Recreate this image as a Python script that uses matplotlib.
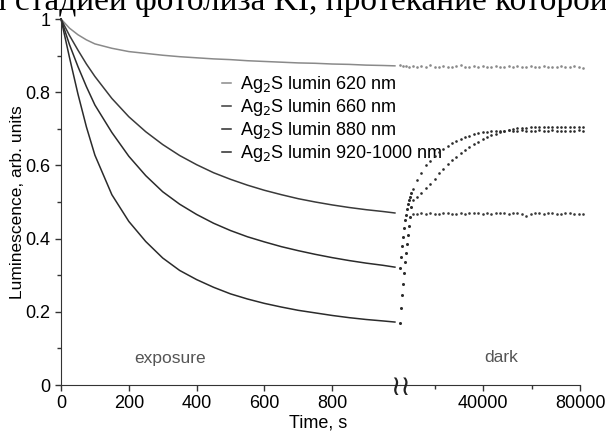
import numpy as np
import matplotlib.pyplot as plt
from matplotlib.ticker import FixedLocator

plt.rcParams['font.family'] = ['Liberation Sans', 'DejaVu Sans']

# exposure part (time in s)
t_exp = [0, 25, 50, 75, 100, 150, 200, 250, 300, 350, 400, 450, 500, 550, 600,
         650, 700, 750, 800, 850, 900, 950, 985]
lum_620 = [1.0, 0.975, 0.957, 0.943, 0.932, 0.92, 0.911, 0.906, 0.901, 0.897, 0.894, 0.891,
           0.889, 0.886, 0.884, 0.882, 0.88, 0.879, 0.877, 0.876, 0.874, 0.873, 0.872]
lum_660 = [1.0, 0.955, 0.915, 0.877, 0.843, 0.783, 0.733, 0.692, 0.657, 0.627, 0.602, 0.58,
           0.562, 0.546, 0.532, 0.52, 0.509, 0.5, 0.492, 0.485, 0.479, 0.474, 0.47]
lum_880 = [1.0, 0.93, 0.87, 0.815, 0.765, 0.69, 0.625, 0.572, 0.528, 0.494, 0.466, 0.442,
           0.422, 0.405, 0.391, 0.378, 0.367, 0.357, 0.348, 0.34, 0.333, 0.327, 0.322]
lum_920 = [1.0, 0.895, 0.795, 0.705, 0.628, 0.52, 0.447, 0.392, 0.347, 0.313, 0.288, 0.267,
           0.249, 0.235, 0.223, 0.213, 0.204, 0.197, 0.19, 0.184, 0.179, 0.175, 0.172]

# dark part (time in s)
t_dark = np.arange(11000, 82000, 1800)
dark_620 = [0.872, 0.868, 0.871, 0.869, 0.873, 0.870, 0.868, 0.872, 0.870, 0.869,
            0.871, 0.873, 0.870, 0.868, 0.871, 0.870, 0.872, 0.869, 0.870, 0.871,
            0.868, 0.870, 0.872, 0.869, 0.871, 0.870, 0.868, 0.871, 0.870, 0.869,
            0.872, 0.870, 0.868, 0.870, 0.871, 0.869, 0.870, 0.872, 0.869, 0.867]
dark_660 = [0.468, 0.466, 0.469, 0.467, 0.470, 0.468, 0.466, 0.469, 0.471, 0.468,
            0.467, 0.470, 0.468, 0.469, 0.471, 0.469, 0.467, 0.470, 0.468, 0.470,
            0.471, 0.469, 0.468, 0.470, 0.469, 0.467, 0.462, 0.468, 0.470, 0.469,
            0.468, 0.470, 0.469, 0.467, 0.468, 0.470, 0.469, 0.468, 0.467, 0.466]
dark_880 = [0.535, 0.56, 0.58, 0.60, 0.613, 0.625, 0.636, 0.645, 0.653, 0.66,
            0.666, 0.672, 0.677, 0.681, 0.685, 0.688, 0.69, 0.692, 0.693, 0.694,
            0.695, 0.694, 0.696, 0.695, 0.694, 0.696, 0.695, 0.693, 0.695, 0.696,
            0.694, 0.695, 0.696, 0.694, 0.695, 0.693, 0.695, 0.694, 0.696, 0.695]
dark_920 = [0.505, 0.515, 0.525, 0.537, 0.55, 0.562, 0.578, 0.59, 0.603, 0.614,
            0.624, 0.633, 0.642, 0.65, 0.658, 0.665, 0.671, 0.677, 0.682, 0.686,
            0.69, 0.694, 0.697, 0.699, 0.701, 0.702, 0.703, 0.704, 0.705, 0.704,
            0.706, 0.705, 0.704, 0.706, 0.705, 0.704, 0.706, 0.705, 0.704, 0.705]

# first dark points, right after the light is switched off
t_rise = [5800, 6200, 6600, 7000, 7400, 7800, 8200, 8600, 9000, 9500, 10000, 10500]
rise_620 = [0.873, 0.871, 0.870, 0.872, 0.870, 0.869, 0.871, 0.870, 0.872, 0.869, 0.870, 0.871]
rise_880 = [0.32, 0.35, 0.38, 0.405, 0.43, 0.45, 0.465, 0.48, 0.495, 0.505, 0.515, 0.525]
rise_920 = [0.17, 0.21, 0.245, 0.275, 0.305, 0.335, 0.36, 0.385, 0.41, 0.435, 0.46, 0.485]

labels = ['Ag$_2$S lumin 620 nm', 'Ag$_2$S lumin 660 nm',
          'Ag$_2$S lumin 880 nm', 'Ag$_2$S lumin 920-1000 nm']

W, H = 606, 436
fig = plt.figure(figsize=(W / 100, H / 100), dpi=100)
x0, xb, x1, y0, y1 = 61, 400, 580, 385, 19
ax1 = fig.add_axes([x0 / W, 1 - y0 / H, (xb - x0) / W, (y0 - y1) / H])
ax2 = fig.add_axes([xb / W, 1 - y0 / H, (x1 - xb) / W, (y0 - y1) / H])

grey = '#8a8a8a'
dark = '#2b2b2b'
cols = [grey, '#3a3a3a', dark, dark]

handles = []
for y, c, lab in zip([lum_620, lum_660, lum_880, lum_920], cols, labels):
    h, = ax1.plot(t_exp, y, color=c, lw=1.1, label=lab, clip_on=False)
    handles.append(h)

for y, c in zip([dark_620, dark_660, dark_880, dark_920], cols):
    ax2.plot(t_dark, y, ls='none', marker='o', ms=1.9, color=c, mew=0, clip_on=False)
ax2.plot(t_rise[::3], rise_620[::3], ls='none', marker='o', ms=1.9, color=grey, mew=0, clip_on=False)
ax2.plot(t_rise, rise_880, ls='none', marker='o', ms=2.2, color=dark, mew=0, clip_on=False)
ax2.plot(t_rise, rise_920, ls='none', marker='o', ms=2.2, color=dark, mew=0, clip_on=False)

for ax in (ax1, ax2):
    ax.set_ylim(0, 1)
    ax.spines['top'].set_visible(False)
    ax.spines['right'].set_visible(False)
    ax.spines['bottom'].set_color('#333333')
    ax.spines['left'].set_color('#333333')
    ax.tick_params(direction='out', length=4, width=1, color='#333333', labelsize=13)
    ax.tick_params(which='minor', direction='out', length=3, width=1, color='#333333')

ax1.set_xlim(0, 1000)
ax1.set_xticks([0, 200, 400, 600, 800])
ax1.set_yticks([0, 0.2, 0.4, 0.6, 0.8, 1.0])
ax1.set_yticklabels(['0', '0.2', '0.4', '0.6', '0.8', '1'])
ax1.yaxis.set_minor_locator(FixedLocator([0.1, 0.3, 0.5, 0.7, 0.9]))

ax2.set_xlim(5773, 80000)
ax2.set_xticks([40000, 80000])
ax2.set_xticklabels(['40000', '80000'])
ax2.xaxis.set_minor_locator(FixedLocator([20000, 60000]))
ax2.spines['left'].set_visible(False)
ax2.set_yticks([])
ax2.patch.set_alpha(0)

ax1.legend(handles=handles, loc='upper left', bbox_to_anchor=((222 - x0) / (xb - x0), (y0 - 74) / (y0 - y1)),
           frameon=False, fontsize=13, handlelength=0.5, handletextpad=0.5,
           labelspacing=0.12, borderpad=0, borderaxespad=0)

fig.text(170 / W, 1 - 358 / H, 'exposure', ha='center', va='center', fontsize=12.5, color='#555555')
fig.text(501 / W, 1 - 358 / H, 'dark', ha='center', va='center', fontsize=12.5, color='#555555')
fig.text(318 / W, 1 - 423 / H, 'Time, s', ha='center', va='center', fontsize=13)
fig.text(18 / W, 1 - 202 / H, 'Luminescence, arb. units', ha='center', va='center',
         rotation=90, fontsize=12.5)
fig.text(401 / W, 1 - 387 / H, '\u2240\u2240', ha='center', va='center', fontsize=20,
         family='DejaVu Sans', color='#222222')

# caption line of the page above the figure, cut by the crop
fig.text(1.002, 1 - 10 / H, 'ой стадией фотолиза KI, протекание которой', ha='right',
         va='baseline', fontsize=24, family='Liberation Serif')

fig.savefig('out.png', dpi=100)
